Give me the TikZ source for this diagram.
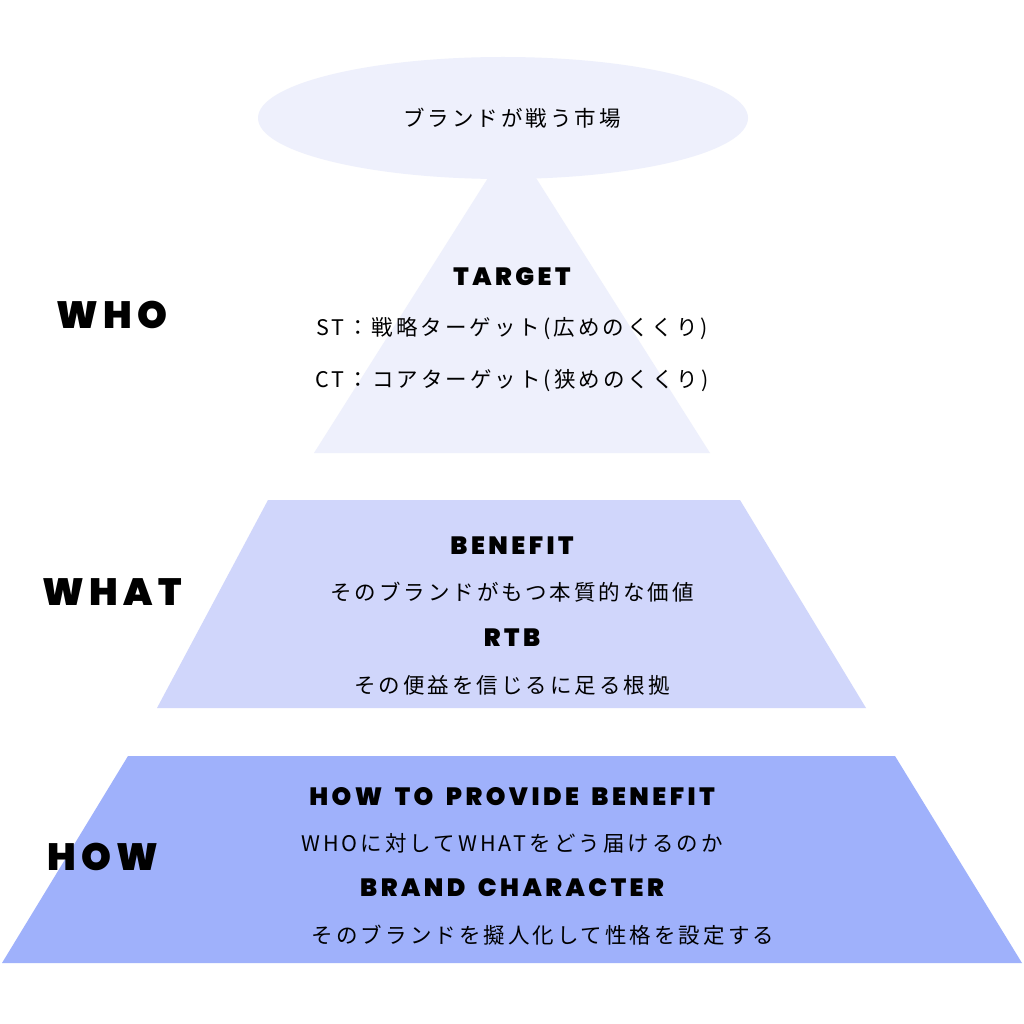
\documentclass[tikz,border=0pt]{standalone}
\usepackage{fontspec}
\setmainfont{Noto Sans CJK JP}
\newfontfamily\hb[LetterSpace=14,WordSpace=1.6]{Poppins Black}
\newfontfamily\jp[LetterSpace=14]{Noto Sans CJK JP}
\usetikzlibrary{shapes.geometric}
\definecolor{c1}{HTML}{EEF0FC}
\definecolor{c2}{HTML}{D0D6FB}
\definecolor{c3}{HTML}{9FB1FB}
\begin{document}
\begin{tikzpicture}[x=1pt,y=-1pt,
 lab/.style={font=\hb\fontsize{25}{28}\selectfont},
 big/.style={font=\hb\fontsize{38}{42}\selectfont},
 txt/.style={font=\jp\fontsize{21.5}{24}\selectfont}]
\useasboundingbox (0,0) rectangle (1024,1024);
\fill[white] (0,0) rectangle (1024,1024);
\fill[c1] (512,140) -- (710,453) -- (314,453) -- cycle;
\node[ellipse,fill=c1,minimum width=490,minimum height=122,inner sep=0] (mk) at (503,118) {};
\node[txt] (mkt) at (512,118) {ブランドが戦う市場};
\fill[c2] (268,500) -- (740,500) -- (866,708) -- (157,708) -- cycle;
\fill[c3] (128,756) -- (895,756) -- (1022,963) -- (2,963) -- cycle;
\node[big] (who) at (112,315) {WHO};
\node[big] (what) at (112,592) {WHAT};
\node[big] (how) at (103,857) {HOW};
\node[lab] (t1) at (512,277) {TARGET};
\node[txt] (t2) at (512,329) {ST：戦略ターゲット(広めのくくり)};
\node[txt] (t3) at (512,381) {CT：コアターゲット(狭めのくくり)};
\node[lab] (b1) at (512,546) {BENEFIT};
\node[txt] (b2) at (512,592) {そのブランドがもつ本質的な価値};
\node[lab] (b3) at (512,638) {RTB};
\node[txt] (b4) at (512,685) {その便益を信じるに足る根拠};
\node[lab] (h1) at (512,797) {HOW TO PROVIDE BENEFIT};
\node[txt] (h2) at (512,843) {WHOに対してWHATをどう届けるのか};
\node[lab] (h3) at (512,888) {BRAND CHARACTER};
\node[txt] (h4) at (543,935) {そのブランドを擬人化して性格を設定する};
\end{tikzpicture}
\end{document}
